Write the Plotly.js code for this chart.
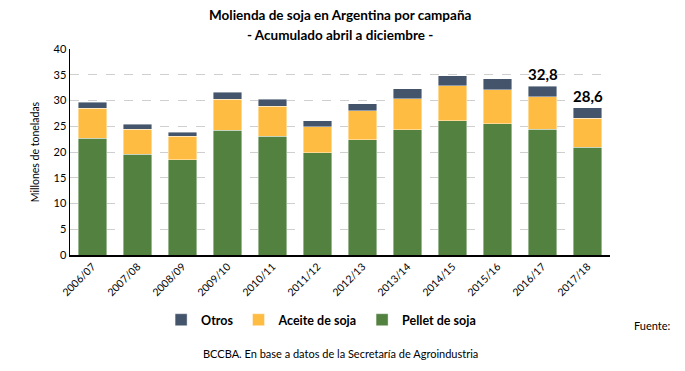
<!DOCTYPE html>
<html>
<head>
<meta charset="utf-8">
<script src="https://cdn.plot.ly/plotly-3.0.1.min.js"></script>
<style>html,body{margin:0;padding:0;background:#fff;}#chart{width:685px;height:371px;}</style>
</head>
<body>
<div id="chart"></div>
<script>
var campaigns = ["2006/07","2007/08","2008/09","2009/10","2010/11","2011/12","2012/13","2013/14","2014/15","2015/16","2016/17","2017/18"];
var pellet = [22.7,19.6,18.5,24.2,23.1,19.9,22.4,24.3,26.1,25.5,24.4,20.9];
var aceite = [5.8,4.8,4.6,6.0,5.8,5.0,5.6,6.0,6.8,6.6,6.3,5.7];
var otros  = [1.2,1.0,0.7,1.4,1.3,1.2,1.4,2.0,1.9,2.1,2.1,2.0];
var labelled = ["2016/17","2017/18"];
var titleLines = ["Molienda de soja en Argentina por campaña","- Acumulado abril a diciembre -"];

var font = "Lato, 'Open Sans', sans-serif";
var line = {color:"rgba(255,255,255,0.7)", width:0.6};
var traces = [
  {type:"bar", name:"<b>Pellet de soja</b>", x:campaigns, y:pellet, marker:{color:"#528140", line:line}},
  {type:"bar", name:"<b>Aceite de soja</b>", x:campaigns, y:aceite, marker:{color:"#FFBC42", line:line}},
  {type:"bar", name:"<b>Otros</b>", x:campaigns, y:otros, marker:{color:"#44546A", line:line}}
];

var annotations = labelled.map(function(c){
  var i = campaigns.indexOf(c);
  var tot = pellet[i]+aceite[i]+otros[i];
  return {x:c, y:tot, xref:"x", yref:"y", text:"<b>"+tot.toFixed(1).replace(".",",")+"</b>", showarrow:false,
          yanchor:"bottom", yshift:1, font:{family:font, size:15, color:"#000"}};
});
annotations.push({xref:"paper", yref:"paper", x:0.5, y:1.165, xanchor:"center", yanchor:"middle",
  text:"<b>"+titleLines[0]+"</b>", showarrow:false, font:{family:font, size:13.5, color:"#000"}});
annotations.push({xref:"paper", yref:"paper", x:0.5, y:1.068, xanchor:"center", yanchor:"middle",
  text:"<b>"+titleLines[1]+"</b>", showarrow:false, font:{family:font, size:13.5, color:"#000"}});
annotations.push({xref:"paper", yref:"paper", x:1.04, y:-0.34, xanchor:"left", yanchor:"middle",
  text:"Fuente:", showarrow:false, font:{family:font, size:11, color:"#000"}});
annotations.push({xref:"paper", yref:"paper", x:0.5, y:-0.48, xanchor:"center", yanchor:"middle",
  text:"BCCBA. En base a datos de la Secretaría de Agroindustria", showarrow:false, font:{family:font, size:11, color:"#000"}});

var layout = {
  width:685, height:371,
  margin:{l:70, r:75, t:49, b:116},
  paper_bgcolor:"#fff", plot_bgcolor:"#fff",
  barmode:"stack", bargap:0.36,
  xaxis:{type:"category", tickangle:-45, tickfont:{family:font, size:10.5, color:"#000"},
         showline:true, linecolor:"#000", linewidth:1.5, ticks:"", showgrid:false},
  yaxis:{range:[0,40], dtick:5, tickfont:{family:font, size:11, color:"#000"},
         showline:true, linecolor:"#000", linewidth:1.5, ticks:"",
         showgrid:true, gridcolor:"#cfcfcf", griddash:"dash", gridwidth:1, zeroline:false,
         title:{text:"Millones de toneladas", font:{family:font, size:10.5, color:"#000"}, standoff:12}},
  legend:{orientation:"h", x:0.465, xanchor:"center", y:-0.316, yanchor:"middle", traceorder:"reversed",
          font:{family:font, size:12.5, color:"#000"}, itemwidth:30},
  annotations:annotations,
  showlegend:true
};
Plotly.newPlot("chart", traces, layout, {displayModeBar:false, staticPlot:true});
</script>
</body>
</html>
